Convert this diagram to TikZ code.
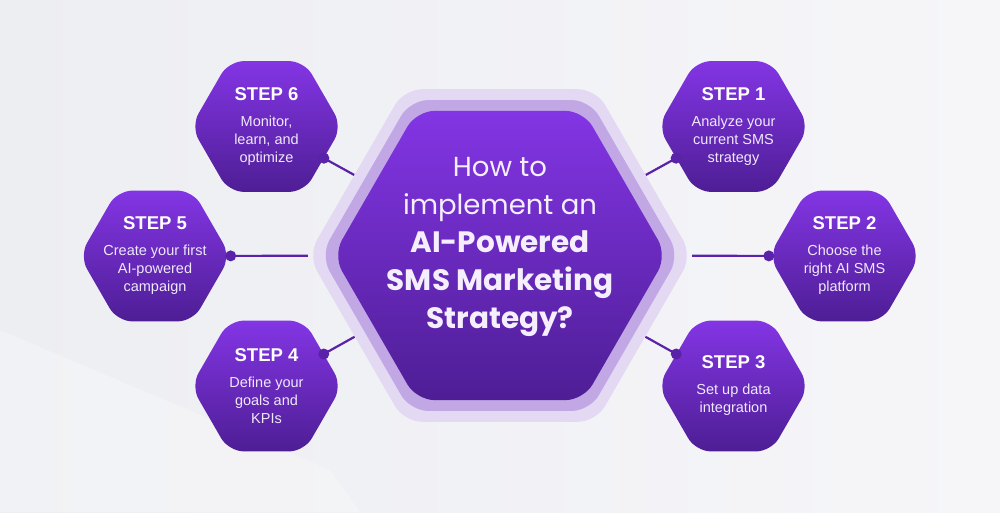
\documentclass[tikz,border=0pt]{standalone}
\usepackage{fontspec}
\setmainfont{Liberation Sans}
\newfontfamily\titlefont{Poppins}
\usetikzlibrary{shapes.geometric}
\definecolor{bgL}{HTML}{EDEEF2}
\definecolor{bgR}{HTML}{F6F6F9}
\definecolor{hexTop}{HTML}{8335E4}
\definecolor{hexBot}{HTML}{4E1E95}
\definecolor{ringOut}{HTML}{E3D9F3}
\definecolor{ringMid}{HTML}{C1A8E5}
\definecolor{connC}{HTML}{5A22A8}
\definecolor{bodyTxt}{HTML}{EFE8FB}
\definecolor{titleTxt}{HTML}{F4EEFD}
\pgfdeclarelayer{back}
\pgfdeclarelayer{front}
\pgfsetlayers{back,main,front}
\newcommand\stepttl[1]{{\fontsize{18.5}{18}\selectfont\bfseries\color{white}STEP #1}}
\newcommand\boldln[1]{{\fontsize{29.5}{38}\selectfont\bfseries #1}}
\begin{document}
\begin{tikzpicture}[x=1pt,y=-1pt,
  hexa/.style={regular polygon, regular polygon sides=6, minimum size=151pt,
    inner sep=0pt, rounded corners=15pt, top color=hexTop, bottom color=hexBot,
    draw=none},
  lbl/.style={text=bodyTxt, align=center, inner sep=0pt,
    font=\fontsize{14.5}{18}\selectfont},
  ring/.style={regular polygon, regular polygon sides=6, inner sep=0pt,
    rounded corners=18pt, draw=none},
  conn/.style={draw=connC, line width=2.2pt},
  dotn/.style={circle, fill=connC, inner sep=0pt, minimum size=11pt}
]
\useasboundingbox (0,0) rectangle (1000,512);
\begin{pgfonlayer}{back}
  \fill[left color=bgL, right color=bgR] (0,0) rectangle (1000,512);
  \fill[white, opacity=0.25] (0,512) -- (0,330) -- (330,470) -- (360,512) -- cycle;
\end{pgfonlayer}

% central hexagon layers
\node[ring, minimum size=384pt, fill=ringOut] (outer) at (500,255.5) {};
\node[ring, minimum size=359pt, fill=ringMid] (middle) at (500,255.5) {};
\node[ring, minimum size=334pt, top color=hexTop, bottom color=hexBot] (inner) at (500,255.5) {};
\node[text=titleTxt, align=center, font=\titlefont\fontsize{27.5}{38}\selectfont] (title) at (500,247)
  {How to\\implement an\\\boldln{AI-Powered}\\\boldln{SMS Marketing}\\\boldln{Strategy?}};

% step hexagons
\node[hexa] (s1) at (733.5,126.5) {};
\node[hexa] (s2) at (844.5,256) {};
\node[hexa] (s3) at (733.5,386) {};
\node[hexa] (s4) at (266.5,386) {};
\node[hexa] (s5) at (155,256) {};
\node[hexa] (s6) at (266.5,126.5) {};
\node[lbl] (l1) at (s1) {\stepttl{1}\\[8pt]Analyze your\\current SMS\\strategy};
\node[lbl] (l2) at (s2) {\stepttl{2}\\[8pt]Choose the\\right AI SMS\\platform};
\node[lbl] (l3) at (s3) {\stepttl{3}\\[8pt]Set up data\\integration};
\node[lbl] (l4) at (s4) {\stepttl{4}\\[8pt]Define your\\goals and\\KPIs};
\node[lbl] (l5) at (s5) {\stepttl{5}\\[8pt]Create your first\\AI-powered\\campaign};
\node[lbl] (l6) at (s6) {\stepttl{6}\\[8pt]Monitor,\\learn, and\\optimize};

% connectors
\begin{pgfonlayer}{back}
  \foreach \s in {s1,s2,s3,s4,s5,s6}
    \draw[conn] (\s) -- (outer);
\end{pgfonlayer}
\begin{pgfonlayer}{front}
  \path (s1) -- (outer) node[pos=0, dotn] (d1) {};
  \path (s2) -- (outer) node[pos=0, dotn] (d2) {};
  \path (s3) -- (outer) node[pos=0, dotn] (d3) {};
  \path (s4) -- (outer) node[pos=0, dotn] (d4) {};
  \path (s5) -- (outer) node[pos=0, dotn] (d5) {};
  \path (s6) -- (outer) node[pos=0, dotn] (d6) {};
\end{pgfonlayer}
\end{tikzpicture}
\end{document}
